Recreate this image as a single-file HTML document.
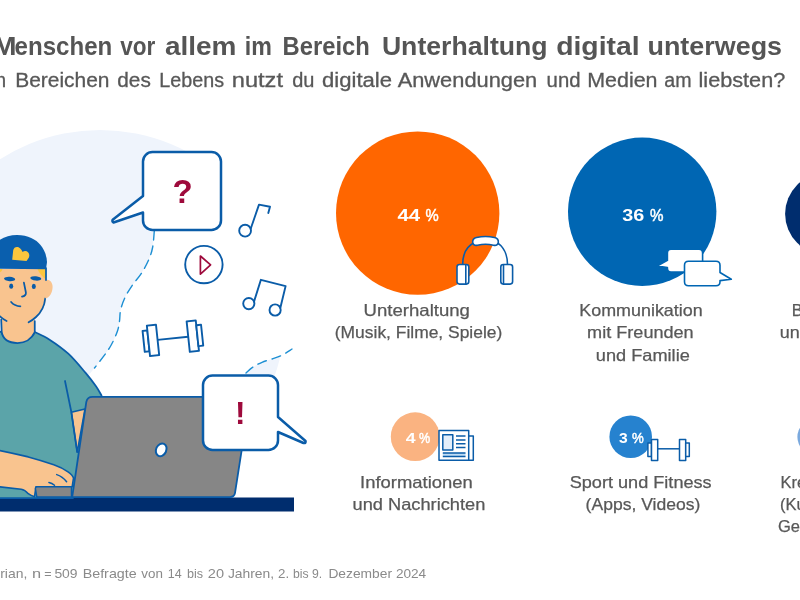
<!DOCTYPE html>
<html lang="de">
<head>
<meta charset="utf-8">
<title>Junge Menschen vor allem im Bereich Unterhaltung digital unterwegs</title>
<style>
html,body{margin:0;padding:0;background:#fff;}
body{width:800px;height:600px;overflow:hidden;font-family:"Liberation Sans",sans-serif;}
svg{display:block;font-family:"Liberation Sans",sans-serif;}
</style>
</head>
<body>
<svg width="800" height="600" viewBox="0 0 800 600">
<rect width="800" height="600" fill="#fff"/>

<!-- headline -->
<g id="headline">
<text x="-14" y="54.6" font-size="26.2" font-weight="700" fill="#555" text-anchor="end">Junge</text>
<text x="-7.2" y="54.6" font-size="26.2" font-weight="700" fill="#555" textLength="23.8" lengthAdjust="spacingAndGlyphs">M</text>
<text x="14.6" y="54.6" font-size="26.2" font-weight="700" fill="#555" textLength="97.7" lengthAdjust="spacingAndGlyphs">enschen</text>
<text x="120.2" y="54.6" font-size="26.2" font-weight="700" fill="#555" textLength="35.1" lengthAdjust="spacingAndGlyphs">vor</text>
<text x="164.95" y="54.6" font-size="26.2" font-weight="700" fill="#555" textLength="71.55" lengthAdjust="spacingAndGlyphs">allem</text>
<text x="244.7" y="54.6" font-size="26.2" font-weight="700" fill="#555" textLength="27.1" lengthAdjust="spacingAndGlyphs">im</text>
<text x="282.5" y="54.6" font-size="26.2" font-weight="700" fill="#555" textLength="87.3" lengthAdjust="spacingAndGlyphs">Bereich</text>
<text x="381.9" y="54.6" font-size="26.2" font-weight="700" fill="#555" textLength="165.65" lengthAdjust="spacingAndGlyphs">Unterhaltung</text>
<text x="556.2" y="54.6" font-size="26.2" font-weight="700" fill="#555" textLength="83.4" lengthAdjust="spacingAndGlyphs">digital</text>
<text x="647.5" y="54.6" font-size="26.2" font-weight="700" fill="#555" textLength="134.55" lengthAdjust="spacingAndGlyphs">unterwegs</text>
<text x="-6" y="87" font-size="19.5" font-weight="400" fill="#585858" stroke="#585858" stroke-width="0.3" text-anchor="end">In welche</text>
<text x="6.1" y="87" font-size="19.5" font-weight="400" fill="#585858" stroke="#585858" stroke-width="0.3" text-anchor="end">n</text>
<text x="15.2" y="87" font-size="19.5" font-weight="400" fill="#585858" stroke="#585858" stroke-width="0.3" textLength="94.3" lengthAdjust="spacingAndGlyphs">Bereichen</text>
<text x="117.3" y="87" font-size="19.5" font-weight="400" fill="#585858" stroke="#585858" stroke-width="0.3" textLength="33.5" lengthAdjust="spacingAndGlyphs">des</text>
<text x="159.3" y="87" font-size="19.5" font-weight="400" fill="#585858" stroke="#585858" stroke-width="0.3" textLength="64.7" lengthAdjust="spacingAndGlyphs">Lebens</text>
<text x="231.75" y="87" font-size="19.5" font-weight="400" fill="#585858" stroke="#585858" stroke-width="0.3" textLength="51.25" lengthAdjust="spacingAndGlyphs">nutzt</text>
<text x="292.25" y="87" font-size="19.5" font-weight="400" fill="#585858" stroke="#585858" stroke-width="0.3" textLength="22.25" lengthAdjust="spacingAndGlyphs">du</text>
<text x="322.0" y="87" font-size="19.5" font-weight="400" fill="#585858" stroke="#585858" stroke-width="0.3" textLength="70.0" lengthAdjust="spacingAndGlyphs">digitale</text>
<text x="397.7" y="87" font-size="19.5" font-weight="400" fill="#585858" stroke="#585858" stroke-width="0.3" textLength="139.5" lengthAdjust="spacingAndGlyphs">Anwendungen</text>
<text x="546.6" y="87" font-size="19.5" font-weight="400" fill="#585858" stroke="#585858" stroke-width="0.3" textLength="33.9" lengthAdjust="spacingAndGlyphs">und</text>
<text x="587.25" y="87" font-size="19.5" font-weight="400" fill="#585858" stroke="#585858" stroke-width="0.3" textLength="70.25" lengthAdjust="spacingAndGlyphs">Medien</text>
<text x="664.25" y="87" font-size="19.5" font-weight="400" fill="#585858" stroke="#585858" stroke-width="0.3" textLength="27.25" lengthAdjust="spacingAndGlyphs">am</text>
<text x="698.5" y="87" font-size="19.5" font-weight="400" fill="#585858" stroke="#585858" stroke-width="0.3" textLength="86.75" lengthAdjust="spacingAndGlyphs">liebsten?</text>
</g>

<!-- illustration -->
<g id="illustration">
<circle cx="100" cy="315" r="185" fill="#eff4fc"/>
<!-- white swoosh -->
<path d="M154.3,231 C154.02,233.75 153.55,242.67 152.6,247.5 C151.65,252.33 150.50,255.63 148.6,260 C146.70,264.37 143.88,269.53 141.2,273.7 C138.52,277.87 135.20,281.03 132.5,285 C129.80,288.97 126.98,293.33 125,297.5 C123.02,301.67 121.52,306.05 120.6,310 C119.68,313.95 120.05,317.62 119.5,321.2 C118.95,324.78 118.68,327.53 117.3,331.5 C115.92,335.47 113.47,340.88 111.2,345 C108.93,349.12 106.48,352.37 103.7,356.2 C100.92,360.03 96.03,366.03 94.5,368 L88,376 L100,398 L246,398 L246,373 C247.17,372.00 250.33,368.78 253,367 C255.67,365.22 258.83,363.63 262,362.3 C265.17,360.97 268.67,360.18 272,359 C275.33,357.82 278.67,356.87 282,355.2 C285.33,353.53 290.33,350.03 292,349 L330,349 L330,100 L200,100 L200,229 Z" fill="#fff"/>
<path d="M154.3,231 C154.02,233.75 153.55,242.67 152.6,247.5 C151.65,252.33 150.50,255.63 148.6,260 C146.70,264.37 143.88,269.53 141.2,273.7 C138.52,277.87 135.20,281.03 132.5,285 C129.80,288.97 126.98,293.33 125,297.5 C123.02,301.67 121.52,306.05 120.6,310 C119.68,313.95 120.05,317.62 119.5,321.2 C118.95,324.78 118.68,327.53 117.3,331.5 C115.92,335.47 113.47,340.88 111.2,345 C108.93,349.12 106.48,352.37 103.7,356.2 C100.92,360.03 96.03,366.03 94.5,368 " fill="none" stroke="#1d8fd3" stroke-width="1.4" stroke-dasharray="9 6" stroke-linecap="round"/>
<path d="M246,373 C247.17,372.00 250.33,368.78 253,367 C255.67,365.22 258.83,363.63 262,362.3 C265.17,360.97 268.67,360.18 272,359 C275.33,357.82 278.67,356.87 282,355.2 C285.33,353.53 290.33,350.03 292,349 " fill="none" stroke="#1d8fd3" stroke-width="1.4" stroke-dasharray="9 6" stroke-linecap="round"/>

<!-- desk -->
<rect x="0" y="497.500" width="294" height="14" fill="#002d6e"/>

<!-- body / shirt -->
<path d="M-5,331 L1.700,332 C3,343 30,346 34.750,332 C37.16,333.23 43.61,335.78 49.2,339.4 C54.79,343.02 62.23,348.12 68.3,353.7 C74.37,359.28 80.98,367.47 85.6,372.9 C90.22,378.33 93.35,382.53 96,386.3 C98.65,390.07 100.58,393.97 101.5,395.5 L101.500,400 L84,430 L73,498 L-5,498 Z" fill="#5ba4a9" stroke="#0a5ca8" stroke-width="1.750" stroke-linejoin="round"/>
<!-- neck + face skin -->
<path d="M-5,269 L46,269 L46,299 C45,307 40,315 34.750,319 L34.750,332 C31,340 24,343 17.500,343 C10,343 3,340 1.700,332 L1.300,319 L-5,315 Z" fill="#f9c48f"/>
<path d="M34.750,321 L34.750,332 C31,340 24,343 17.500,343 C10,343 3,340 1.700,332 L1.200,319.500" fill="none" stroke="#0a5ca8" stroke-width="1.750" stroke-linecap="round" stroke-linejoin="round"/>
<!-- jaw lines -->
<path d="M45.200,298.500 C44.500,306 41,312.500 36,317 C33.500,319.300 31,321 28.600,322.300" fill="none" stroke="#0a5ca8" stroke-width="1.750" stroke-linecap="round"/>
<path d="M-2,314.500 C1,317.500 4,319.800 6.600,321" fill="none" stroke="#0a5ca8" stroke-width="1.750" stroke-linecap="round"/>
<!-- ear -->
<path d="M45.500,280 C49,278.500 52.800,282 52.600,287 C52.400,293 49.500,297.500 45.500,298.500 Z" fill="#f9c48f"/>
<!-- hair -->
<path d="M37.500,269 L46,269 L46,279.500 C42.500,277 39.500,273.500 37.500,269 Z" fill="#fcc63e"/>
<path d="M-2,269 L2.500,269 C2,271 0.500,272.500 -2,273 Z" fill="#fcc63e"/>
<path d="M46,268 L46,280" fill="none" stroke="#0a5ca8" stroke-width="1.750" stroke-linecap="round"/>
<!-- cap -->
<path d="M-5,244 C0,238.500 8,235 17,235 C28,235 36,239.500 40.500,245 C44.500,250 46.800,256 47,262 L46,269.300 L-5,268.600 Z" fill="#0a5fae"/>
<path d="M12.200,259.800 L13.200,250.200 C13.800,247 17.500,245.800 20,248.300 C21.200,249.500 22,250.800 22.600,252 C24,250.800 26.500,250.700 28,252.200 C29.800,254 29.600,256.800 28.300,258.600 L26.500,261 Z" fill="#fcc63e"/>
<!-- face features -->
<ellipse cx="9.600" cy="279" rx="5.600" ry="2.200" transform="rotate(4 9.600 279)" fill="#0a5ca8"/>
<ellipse cx="35.800" cy="278.400" rx="5.500" ry="2.200" transform="rotate(6 35.800 278.400)" fill="#0a5ca8"/>
<ellipse cx="11.200" cy="286.200" rx="2" ry="2.600" fill="#0a5ca8"/>
<ellipse cx="33.800" cy="286.400" rx="2" ry="2.600" fill="#0a5ca8"/>
<path d="M23.900,282.600 L25.900,292.500 Q26.300,295.800 22,296.600" fill="none" stroke="#0a5ca8" stroke-width="1.750" stroke-linecap="round" stroke-linejoin="round"/>
<path d="M11.100,302 Q14.500,306 20.400,306.300" fill="none" stroke="#0a5ca8" stroke-width="1.750" stroke-linecap="round"/>
<!-- upper arm skin under sleeve -->
<path d="M71.400,412.300 L85,409 L77.200,452 Z" fill="#f9c48f" stroke="#0a5ca8" stroke-width="1.500" stroke-linejoin="round"/>
<path d="M65,381 L71.400,412.300 L77.200,452" fill="none" stroke="#0a5ca8" stroke-width="1.750" stroke-linecap="round" stroke-linejoin="round"/>
<!-- forearm + hand -->
<path d="M-5,449.600 C10,452.500 20,455 28.300,456.900 C38,459.500 46,462 53.800,464.700 C59,466.500 64,469 68,471.800 C71,474 73,476 73.500,478 L72.200,486.700 L36,486.700 L34.500,496.800 C32,496 30,495 28.300,493.700 C26,491 24,489.600 21.200,489.200 L-5,486.300 Z" fill="#f9c48f" stroke="#0a5ca8" stroke-width="1.600" stroke-linejoin="round"/>
<path d="M56.700,474.600 Q62.500,476.500 66.600,481.700 M48.900,482.400 Q52,483 54.500,485.200" fill="none" stroke="#0a5ca8" stroke-width="1.500" stroke-linecap="round"/>
<!-- laptop base -->
<path d="M37.500,486.700 L71.500,486.700 L71.500,497 L36.800,497 L35.400,488.700 Q35.300,486.700 37.500,486.700 Z" fill="#868686" stroke="#0a5ca8" stroke-width="1.500" stroke-linejoin="round"/>
<!-- laptop lid -->
<path d="M72.200,497 L86.300,402 Q87.300,396.800 92.500,396.800 L250,396.800 L235,493 Q234.300,497 230,497 Z" fill="#868686" stroke="#0a5ca8" stroke-width="1.750" stroke-linejoin="round"/>
<ellipse cx="161.200" cy="449.800" rx="5.100" ry="6.600" transform="rotate(25 161.200 449.800)" fill="#fff" stroke="#0a5ca8" stroke-width="2"/>

<!-- "?" bubble -->
<path d="M152.500,152 H211.500 A9.500,9.500 0 0 1 221,161.500 V220.500 A9.500,9.500 0 0 1 211.500,230 H152.500 A9.500,9.500 0 0 1 143,220.500 V212.500 L113.500,222.500 Q111.500,221 113,219.500 L143,196 V161.500 A9.500,9.500 0 0 1 152.500,152 Z" fill="#fff" stroke="#0a5ca8" stroke-width="2.500" stroke-linejoin="round"/>
<text x="182.500" y="202.800" font-size="33" font-weight="700" fill="#9e0a3c" text-anchor="middle">?</text>

<!-- "!" bubble -->
<path d="M212.500,375.500 H268.500 A9.500,9.500 0 0 1 278,385 V417 L305.500,441 Q306,443.500 303.500,443 L278,432 V440.500 A9.500,9.500 0 0 1 268.500,450 H212.500 A9.500,9.500 0 0 1 203,440.500 V385 A9.500,9.500 0 0 1 212.500,375.500 Z" fill="#fff" stroke="#0a5ca8" stroke-width="2.500" stroke-linejoin="round"/>
<text x="240.300" y="423.500" font-size="31.500" font-weight="700" fill="#9e0a3c" text-anchor="middle">!</text>

<!-- single note -->
<g fill="none" stroke="#0a5ca8" stroke-width="1.900" stroke-linecap="round" stroke-linejoin="round">
<circle cx="245.100" cy="230.700" r="5.900" fill="#fff"/>
<path d="M250.700,228.700 L259,204.600 L270,206.800 L268.300,213"/>
<!-- play -->
<circle cx="203.900" cy="264.600" r="18.700" fill="#fff"/>
<!-- double note -->
<circle cx="248.800" cy="303.600" r="5.600" fill="#fff"/>
<circle cx="275.100" cy="310" r="5.600" fill="#fff"/>
<path d="M254,301.600 L260.900,279.800 L285.600,286.100 L280.300,308"/>
</g>
<path d="M200.400,256 L210.600,264.800 L200.400,274.200 Z" fill="none" stroke="#9e0a3c" stroke-width="1.700" stroke-linejoin="round"/>
<!-- dumbbell (illustration) -->
<g transform="translate(172.900 338.300) rotate(-6)" fill="#fff" stroke="#0a5ca8" stroke-width="1.900" stroke-linejoin="round">
<path d="M-15.400,0 H15.400" fill="none"/>
<rect x="-29.400" y="-10.500" width="4.800" height="21"/>
<rect x="-24.600" y="-15.250" width="9.200" height="30.500"/>
<rect x="15.400" y="-15.250" width="9.200" height="30.500"/>
<rect x="24.600" y="-10.500" width="4.800" height="21"/>
</g>
</g>

<!-- charts -->
<g id="charts">
<circle cx="417.700" cy="213.100" r="81.700" fill="#ff6600"/>
<text x="397.5" y="220.6" font-size="17" font-weight="700" fill="#fff" textLength="22.7" lengthAdjust="spacingAndGlyphs">44</text><text x="425.5" y="220.6" font-size="17" font-weight="400" fill="#fff" stroke="#fff" stroke-width="0.500" textLength="13.2" lengthAdjust="spacingAndGlyphs">%</text>
<!-- headphones -->
<g fill="#fff" stroke="#0a5ca8" stroke-width="1.600" stroke-linejoin="round" stroke-linecap="round">
<path d="M462.700,264.500 C462.700,254 467,246 474.500,242.500 M496.500,242.500 C503,246 507.500,254 507.500,264.500" fill="none"/>
<path d="M476.500,237.500 Q485.500,235.500 494.500,237.500 Q498.800,238.600 498.300,242.500 Q497.500,246.200 493.500,245.200 Q485.500,243.200 477.500,245.200 Q473.500,246.200 472.700,242.500 Q472.200,238.600 476.500,237.500 Z"/>
<rect x="457" y="264.500" width="11.800" height="19.600" rx="2.500"/>
<path d="M465.800,264.800 V283.800" fill="none"/>
<rect x="500.800" y="264.500" width="11.800" height="19.600" rx="2.500"/>
<path d="M503.500,264.800 V283.800" fill="none"/>
</g>
<text x="363.6" y="315.9" font-size="16.5" fill="#585858" stroke="#585858" stroke-width="0.25" textLength="106.3" lengthAdjust="spacingAndGlyphs">Unterhaltung</text>
<text x="334.8" y="338.2" font-size="16.5" fill="#585858" stroke="#585858" stroke-width="0.25" textLength="167.5" lengthAdjust="spacingAndGlyphs">(Musik, Filme, Spiele)</text>

<circle cx="642.200" cy="211.800" r="74.200" fill="#0066b3"/>
<text x="622.3" y="220.6" font-size="17" font-weight="700" fill="#fff" textLength="22.0" lengthAdjust="spacingAndGlyphs">36</text><text x="649.9" y="220.6" font-size="17" font-weight="400" fill="#fff" stroke="#fff" stroke-width="0.500" textLength="13.5" lengthAdjust="spacingAndGlyphs">%</text>
<!-- chat bubbles -->
<g fill="#fff" stroke="#0066b3" stroke-width="1.600" stroke-linejoin="round">
<path d="M671,249.300 H699 Q702.600,249.300 702.600,253 V268.300 Q702.600,272 699,272 H671 Q667.400,272 667.400,268.300 V267.600 L657.200,266 L667.400,260.400 V253 Q667.400,249.300 671,249.300 Z"/>
<path d="M688.500,261.200 H716 Q720,261.200 720,265.200 V272.500 L731.300,279.300 L720,280.600 V281.700 Q720,285.700 716,285.700 H688.500 Q684.500,285.700 684.500,281.700 V265.200 Q684.500,261.200 688.500,261.200 Z"/>
</g>
<text x="579.3" y="315.9" font-size="16.5" fill="#585858" stroke="#585858" stroke-width="0.25" textLength="123.4" lengthAdjust="spacingAndGlyphs">Kommunikation</text>
<text x="587.1" y="338.2" font-size="16.5" fill="#585858" stroke="#585858" stroke-width="0.25" textLength="106.6" lengthAdjust="spacingAndGlyphs">mit Freunden</text>
<text x="595.8" y="360.5" font-size="16.5" fill="#585858" stroke="#585858" stroke-width="0.25" textLength="94.0" lengthAdjust="spacingAndGlyphs">und Familie</text>

<circle cx="826" cy="213.800" r="40.900" fill="#002d6e"/>
<text x="791.800" y="315.900" font-size="16.500" fill="#585858" stroke="#585858" stroke-width="0.250">Bildung</text>
<text x="779.700" y="338.200" font-size="16.500" fill="#585858" stroke="#585858" stroke-width="0.250" textLength="20" lengthAdjust="spacingAndGlyphs">un</text><text x="801" y="338.200" font-size="16.500" fill="#585858" stroke="#585858" stroke-width="0.250">d Lernen</text>

<circle cx="415.200" cy="436.700" r="24.400" fill="#fab381"/>
<text x="405.65" y="443.2" font-size="15" font-weight="700" fill="#fff" textLength="9.85" lengthAdjust="spacingAndGlyphs">4</text><text x="419.0" y="443.2" font-size="15" font-weight="400" fill="#fff" stroke="#fff" stroke-width="0.500" textLength="11.2" lengthAdjust="spacingAndGlyphs">%</text>
<!-- newspaper -->
<g stroke="#0a5ca8" stroke-width="1.500" stroke-linejoin="round" fill="#fff">
<path d="M468.700,436 H473.300 V460.200 H460"/>
<rect x="439" y="430.600" width="29.700" height="29.600"/>
<rect x="442.800" y="434.800" width="10" height="15.300" fill="#e3eefa"/>
<rect x="442.800" y="453" width="22.700" height="3.400" fill="#bfdcf5" stroke="none"/>
<path d="M456,436 H465.500 M456,439.900 H465.500 M456,443.700 H465.500 M456,447.500 H465.500 M442.800,453 H465.500 M442.800,456.400 H465.500" fill="none"/>
</g>
<text x="360.1" y="487.9" font-size="16.5" fill="#585858" stroke="#585858" stroke-width="0.25" textLength="112.6" lengthAdjust="spacingAndGlyphs">Informationen</text>
<text x="352.6" y="510.1" font-size="16.5" fill="#585858" stroke="#585858" stroke-width="0.25" textLength="132.7" lengthAdjust="spacingAndGlyphs">und Nachrichten</text>

<circle cx="630.700" cy="436.700" r="21.300" fill="#2682cf"/>
<text x="618.9" y="443.2" font-size="15" font-weight="700" fill="#fff" textLength="8.7" lengthAdjust="spacingAndGlyphs">3</text><text x="632.0" y="443.2" font-size="15" font-weight="400" fill="#fff" stroke="#fff" stroke-width="0.500" textLength="11.75" lengthAdjust="spacingAndGlyphs">%</text>
<!-- dumbbell -->
<g fill="#fff" stroke="#0a5ca8" stroke-width="1.500" stroke-linejoin="round">
<path d="M657.700,448.800 H679.400" fill="none"/>
<rect x="647.900" y="443" width="3.600" height="13.600"/>
<rect x="651.500" y="439.400" width="6.200" height="21"/>
<rect x="679.500" y="439.400" width="6.200" height="21"/>
<rect x="685.700" y="443" width="3.600" height="13.600"/>
</g>
<text x="569.7" y="487.9" font-size="16.5" fill="#585858" stroke="#585858" stroke-width="0.25" textLength="142.0" lengthAdjust="spacingAndGlyphs">Sport und Fitness</text>
<text x="585.6" y="510.1" font-size="16.5" fill="#585858" stroke="#585858" stroke-width="0.25" textLength="114.7" lengthAdjust="spacingAndGlyphs">(Apps, Videos)</text>

<circle cx="814.800" cy="437" r="17.400" fill="#7aa9de"/>
<text x="780.600" y="487.900" font-size="16.500" fill="#585858" stroke="#585858" stroke-width="0.250">Kreativität</text>
<text x="780" y="510.100" font-size="16.500" fill="#585858" stroke="#585858" stroke-width="0.250">(Kunst, Musik,</text>
<text x="778" y="532.100" font-size="16.500" fill="#585858" stroke="#585858" stroke-width="0.250">Gestaltung)</text>
</g>

<!-- footer -->
<text x="-1" y="577.5" font-size="13" font-weight="400" fill="#8a8a8a" text-anchor="end">Quelle: Ve</text>
<text x="0.2" y="577.5" font-size="13" font-weight="400" fill="#8a8a8a" textLength="27.1" lengthAdjust="spacingAndGlyphs">rian,</text>
<text x="31.9" y="577.5" font-size="13" font-weight="400" fill="#8a8a8a" textLength="9.1" lengthAdjust="spacingAndGlyphs">n</text>
<text x="44.2" y="577.5" font-size="13" font-weight="400" fill="#8a8a8a" textLength="7.3" lengthAdjust="spacingAndGlyphs">=</text>
<text x="54.4" y="577.5" font-size="13" font-weight="400" fill="#8a8a8a" textLength="23.2" lengthAdjust="spacingAndGlyphs">509</text>
<text x="82.7" y="577.5" font-size="13" font-weight="400" fill="#8a8a8a" textLength="54.0" lengthAdjust="spacingAndGlyphs">Befragte</text>
<text x="141.3" y="577.5" font-size="13" font-weight="400" fill="#8a8a8a" textLength="21.6" lengthAdjust="spacingAndGlyphs">von</text>
<text x="167.7" y="577.5" font-size="13" font-weight="400" fill="#8a8a8a" textLength="13.9" lengthAdjust="spacingAndGlyphs">14</text>
<text x="187.0" y="577.5" font-size="13" font-weight="400" fill="#8a8a8a" textLength="16.1" lengthAdjust="spacingAndGlyphs">bis</text>
<text x="207.8" y="577.5" font-size="13" font-weight="400" fill="#8a8a8a" textLength="16.2" lengthAdjust="spacingAndGlyphs">20</text>
<text x="227.9" y="577.5" font-size="13" font-weight="400" fill="#8a8a8a" textLength="46.2" lengthAdjust="spacingAndGlyphs">Jahren,</text>
<text x="278.0" y="577.5" font-size="13" font-weight="400" fill="#8a8a8a" textLength="11.1" lengthAdjust="spacingAndGlyphs">2.</text>
<text x="293.0" y="577.5" font-size="13" font-weight="400" fill="#8a8a8a" textLength="15.6" lengthAdjust="spacingAndGlyphs">bis</text>
<text x="311.9" y="577.5" font-size="13" font-weight="400" fill="#8a8a8a" textLength="10.2" lengthAdjust="spacingAndGlyphs">9.</text>
<text x="328.4" y="577.5" font-size="13" font-weight="400" fill="#8a8a8a" textLength="63.6" lengthAdjust="spacingAndGlyphs">Dezember</text>
<text x="395.9" y="577.5" font-size="13" font-weight="400" fill="#8a8a8a" textLength="30.3" lengthAdjust="spacingAndGlyphs">2024</text>
</svg>
</body>
</html>
